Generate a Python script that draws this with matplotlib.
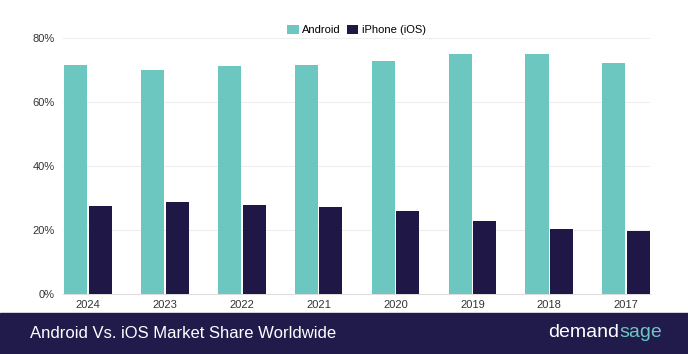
import matplotlib.pyplot as plt
import numpy as np
from matplotlib.patches import Rectangle

years = ['2024', '2023', '2022', '2021', '2020', '2019', '2018', '2017']
android = [71.8, 70.0, 71.3, 71.8, 72.8, 75.2, 75.2, 72.4]
ios = [27.5, 28.8, 27.8, 27.2, 26.1, 22.7, 20.4, 19.6]
y_ticks = [0, 20, 40, 60, 80]

teal = '#6cc7c1'
navy = '#1f1846'
banner = '#201b4b'

plt.rcParams['font.family'] = ['Liberation Sans', 'DejaVu Sans']

fig = plt.figure(figsize=(6.88, 3.54), dpi=100)
ax = fig.add_axes([0.0916, 0.1695, 0.8532, 0.7223])

x = np.arange(len(years))
w = 0.30
ax.bar(x - w / 2 - 0.01, android, w, color=teal, label='Android', zorder=3)
ax.bar(x + w / 2 + 0.01, ios, w, color=navy, label='iPhone (iOS)', zorder=3)

ax.set_xlim(-0.325, len(years) - 1 + 0.31)
ax.set_ylim(0, 80)
ax.set_yticks(y_ticks)
ax.set_yticklabels([f'{v}%' for v in y_ticks])
ax.set_xticks(x)
ax.set_xticklabels(years)
ax.tick_params(axis='both', length=0, labelsize=8, colors='#333333')
ax.tick_params(axis='y', pad=6)
ax.tick_params(axis='x', pad=4)
ax.yaxis.grid(True, color='#eeeeee', linewidth=0.8, zorder=0)
for s in ['top', 'right', 'left']:
    ax.spines[s].set_visible(False)
ax.spines['bottom'].set_color('#dddddd')

ax.legend(loc='lower center', bbox_to_anchor=(0.5, 0.99), ncol=2, frameon=False,
          fontsize=8, handlelength=1.0, handleheight=1.0, handletextpad=0.3,
          columnspacing=0.6, borderaxespad=0.1)

# footer banner
fig.patches.append(Rectangle((0, 0), 1, 0.1158, transform=fig.transFigure,
                             color=banner, zorder=0))
fig.text(0.044, 0.058, 'Android Vs. iOS Market Share Worldwide', color='white',
         fontsize=12, va='center', ha='left')

# logo: "demand" white + "sage" teal
sage = fig.text(0.962, 0.062, 'sage', color=teal, fontsize=14, va='center',
                ha='right', fontweight='medium')
fig.canvas.draw()
bb = sage.get_window_extent().transformed(fig.transFigure.inverted())
fig.text(bb.x0, 0.062, 'demand', color='white', fontsize=14, va='center',
         ha='right', fontweight='medium')

fig.savefig('out.png', dpi=100)
